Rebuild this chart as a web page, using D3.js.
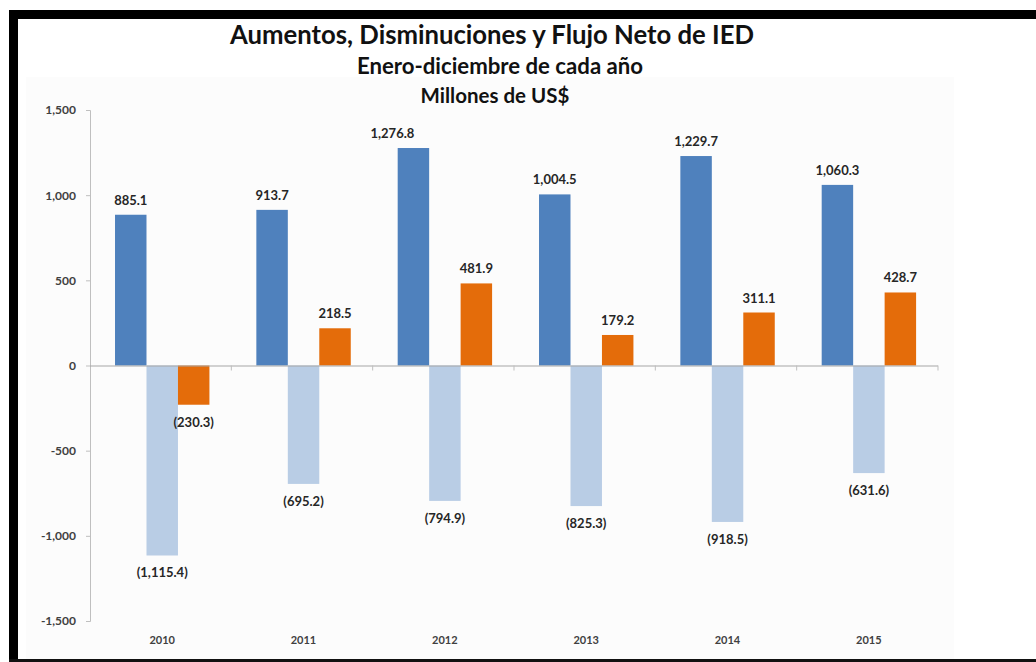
<!DOCTYPE html>
<html>
<head>
<meta charset="utf-8">
<script src="https://cdnjs.cloudflare.com/ajax/libs/d3/7.8.5/d3.min.js"></script>
<style>
  html, body { margin: 0; padding: 0; background: #fff; }
  svg { display: block; font-family: Lato, "Open Sans", sans-serif; }
</style>
</head>
<body>
<svg id="chart" width="1036" height="662"></svg>
<script>
// ---- Data ----
const years = ["2010", "2011", "2012", "2013", "2014", "2015"];
const seriesNames = ["Aumentos", "Disminuciones", "Flujo Neto"];
const aumentos = [885.1, 913.7, 1276.8, 1004.5, 1229.7, 1060.3];
const disminuciones = [-1115.4, -695.2, -794.9, -825.3, -918.5, -631.6];
const flujoNeto = [-230.3, 218.5, 481.9, 179.2, 311.1, 428.7];
const yTicks = [-1500, -1000, -500, 0, 500, 1000, 1500];
const titleLines = ["Aumentos, Disminuciones y Flujo Neto de IED", "Enero-diciembre de cada año", "Millones de US$"];

const seriesValues = [aumentos, disminuciones, flujoNeto];
const colors = ["#4f81bd", "#b9cde5", "#e46c0a"];

const svg = d3.select("#chart");
const locale = d3.formatLocale({decimal: ".", thousands: ",", grouping: [3], currency: ["$", ""], minus: "-"});

// Frame (black border, cropped on right)
svg.append("rect").attr("x", 9).attr("y", 10).attr("width", 1027).attr("height", 9).attr("fill", "#000");
svg.append("rect").attr("x", 9).attr("y", 10).attr("width", 9).attr("height", 652).attr("fill", "#000");
svg.append("rect").attr("x", 9).attr("y", 659).attr("width", 1027).attr("height", 3).attr("fill", "#111");

// Plot area faint background
svg.append("rect").attr("x", 26).attr("y", 77).attr("width", 928).attr("height", 582).attr("fill", "#fcfcfc");

// Titles
const titleSizes = [25.7, 22.2, 20.5];
const titleY = [44, 74, 103];
const titleX = [492, 500, 495];
titleLines.forEach((t, i) => {
  svg.append("text").attr("x", titleX[i]).attr("y", titleY[i])
    .attr("text-anchor", "middle").attr("font-weight", "bold")
    .attr("font-size", titleSizes[i]).attr("fill", "#111").text(t);
});

// Scales
const y = d3.scaleLinear().domain([-1500, 1500]).range([621, 110]);
const x0 = d3.scaleBand().domain(years).range([90, 938]).padding(0);
const bw = x0.bandwidth();
const x1 = d3.scaleBand().domain(seriesNames).range([bw * 0.177, bw * 0.845]).padding(0);

// Y axis
const yAxis = d3.axisLeft(y).tickValues(yTicks).tickSize(4).tickPadding(10)
  .tickFormat(locale.format(",d"));
const gy = svg.append("g").attr("transform", "translate(90,0)").call(yAxis);
gy.select(".domain").attr("stroke", "#bfbfbf").attr("d", "M-4,110.5H0.5V621.5H-4");
gy.selectAll(".tick line").attr("stroke", "#bfbfbf");
gy.selectAll(".tick text").attr("font-size", 12).attr("font-weight", "bold")
  .attr("fill", "#404040").attr("font-family", "Lato, sans-serif");

// Bars
const fmt = locale.format(",.1f");
years.forEach((yr, i) => {
  const g = svg.append("g").attr("transform", `translate(${x0(yr)},0)`);
  seriesNames.forEach((s, j) => {
    const v = seriesValues[j][i];
    g.append("rect")
      .attr("x", x1(s)).attr("width", x1.bandwidth())
      .attr("y", Math.min(y(v), y(0))).attr("height", Math.abs(y(v) - y(0)))
      .attr("fill", colors[j]);
  });
});

// X axis at zero
const xAxis = d3.axisBottom(x0).tickSize(0).tickFormat("");
const gx = svg.append("g").attr("transform", `translate(0,${y(0)})`).call(xAxis);
gx.select(".domain").attr("stroke", "#a6a6a6").attr("d", "M90,0.5H938");
const bounds = years.map(yr => x0(yr) + bw);
gx.selectAll("line.cat").data(bounds).enter().append("line")
  .attr("x1", d => d).attr("x2", d => d).attr("y1", 0).attr("y2", 5)
  .attr("stroke", "#bfbfbf");

// Year labels at bottom
svg.append("g").selectAll("text").data(years).enter().append("text")
  .attr("x", d => x0(d) + bw / 2 + 1.5).attr("y", 644)
  .attr("text-anchor", "middle").attr("font-size", 11).attr("font-weight", "bold")
  .attr("fill", "#404040").text(d => d);

// Data labels
years.forEach((yr, i) => {
  seriesNames.forEach((s, j) => {
    const v = seriesValues[j][i];
    let cx = x0(yr) + x1(s) + x1.bandwidth() / 2;
    if (j === 0 && i === 2) cx -= 21; // manual nudge as in original
    const ty = v >= 0 ? y(v) - 10 : y(v) + 22;
    const label = v >= 0 ? fmt(v) : "(" + fmt(-v) + ")";
    svg.append("text").attr("x", cx).attr("y", ty)
      .attr("text-anchor", "middle").attr("font-size", 13).attr("font-weight", "bold")
      .attr("fill", "#262626").text(label);
  });
});
</script>
</body>
</html>
